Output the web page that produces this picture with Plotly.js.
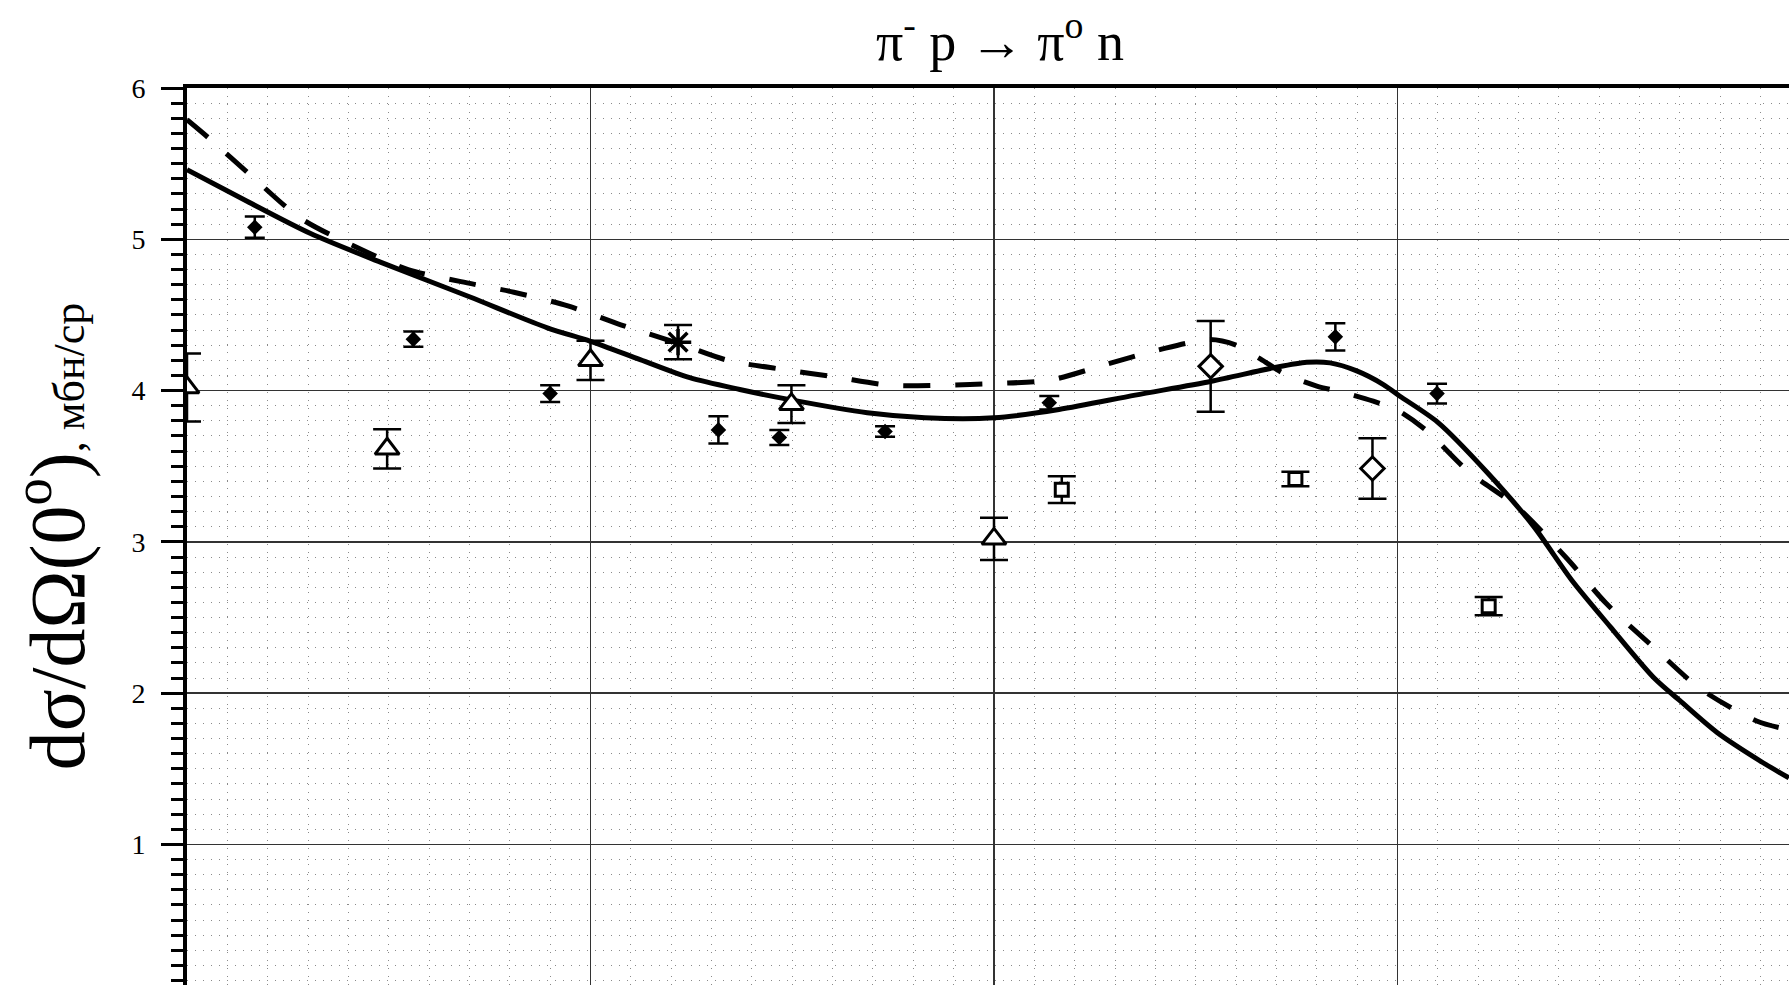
<!DOCTYPE html>
<html>
<head>
<meta charset="utf-8">
<script src="https://cdn.plot.ly/plotly-3.0.1.min.js"></script>
<style>
html,body{margin:0;padding:0;background:#fff;overflow:hidden;}
#chart{width:1789px;height:985px;}
</style>
</head>
<body>
<div id="chart"></div>
<script>
// ---- data (x in major-grid units, y in mb/sr) ----
const solidX = [0, 0.15, 0.305, 0.484, 0.70, 0.893, 1.0, 1.123, 1.246, 1.37, 1.494, 1.686, 1.829, 2.0, 2.161, 2.35, 2.539, 2.692, 2.775, 2.833, 2.899, 2.965, 3.006, 3.1, 3.223, 3.337, 3.431, 3.527, 3.636, 3.70, 3.792, 3.906, 3.97];
const solidY = [5.46, 5.25, 5.04, 4.844, 4.62, 4.415, 4.326, 4.205, 4.085, 4.007, 3.94, 3.853, 3.82, 3.82, 3.875, 3.97, 4.062, 4.15, 4.187, 4.183, 4.13, 4.04, 3.963, 3.79, 3.457, 3.104, 2.75, 2.44, 2.10, 1.95, 1.74, 1.54, 1.44];

const dashX = [0, 0.058, 0.155, 0.281, 0.415, 0.548, 0.679, 0.81, 0.944, 1.075, 1.22, 1.34, 1.476, 1.607, 1.74, 1.874, 2.007, 2.14, 2.274, 2.405, 2.535, 2.60, 2.66, 2.72, 2.80, 2.87, 2.94, 3.0, 3.07, 3.178, 3.297, 3.42, 3.517, 3.64, 3.75, 3.89, 3.95];
const dashY = [5.79, 5.66, 5.43, 5.14, 4.954, 4.80, 4.72, 4.65, 4.56, 4.435, 4.31, 4.20, 4.14, 4.09, 4.036, 4.036, 4.047, 4.07, 4.17, 4.267, 4.337, 4.30, 4.21, 4.11, 4.03, 3.985, 3.93, 3.87, 3.74, 3.46, 3.23, 2.89, 2.594, 2.29, 2.03, 1.816, 1.77];

const diaX = [0.168, 0.561, 0.900, 1.317, 1.468, 1.730, 2.137, 2.846, 3.098];
const diaY = [5.08, 4.34, 3.98, 3.74, 3.69, 3.73, 3.92, 4.355, 3.98];
const diaErr = [0.07, 0.05, 0.055, 0.09, 0.05, 0.035, 0.045, 0.09, 0.065];

const triX = [0, 0.496, 1.0, 1.498, 2.0];
const triY = [4.02, 3.615, 4.20, 3.91, 3.02];
const triErr = [0.225, 0.13, 0.13, 0.125, 0.14];

const sqX = [2.168, 2.747, 3.226];
const sqY = [3.345, 3.415, 2.575];
const sqErr = [0.088, 0.048, 0.06];

const odX = [2.537, 2.938];
const odY = [4.16, 3.485];
const odErr = [0.30, 0.20];

const starX = [1.217];
const starY = [4.32];
const starErr = [0.113];

const yTickVals = [1, 2, 3, 4, 5, 6];
const yTickText = ['1', '2', '3', '4', '5', '6'];

const titleText = 'π<sup>-</sup> p → π<sup>o</sup> n';
const yTitleText = 'dσ/dΩ(0<sup>o</sup>)<span style="font-size:44px">, мбн/ср</span>';

// ---- traces ----
function errBar(arr, w) {
  return {type: 'data', array: arr, visible: true, color: '#000', thickness: 2.5, width: w};
}

const traces = [
  {x: solidX, y: solidY, mode: 'lines', line: {color: '#000', width: 5, shape: 'spline', smoothing: 0.8}, hoverinfo: 'skip'},
  {x: dashX, y: dashY, mode: 'lines', line: {color: '#000', width: 5, shape: 'spline', smoothing: 0.8, dash: '27px,25px'}, hoverinfo: 'skip'},
  {x: diaX, y: diaY, mode: 'markers', marker: {symbol: 'diamond', size: 12, color: '#000'}, error_y: errBar(diaErr, 10)},
  {x: triX, y: triY, mode: 'markers', marker: {symbol: 'triangle-up', size: 21, color: '#fff', line: {color: '#000', width: 3}}, error_y: errBar(triErr, 14)},
  {x: sqX, y: sqY, mode: 'markers', marker: {symbol: 'square', size: 13, color: '#fff', line: {color: '#000', width: 3}}, error_y: errBar(sqErr, 14)},
  {x: odX, y: odY, mode: 'markers', marker: {symbol: 'diamond', size: 18, color: '#fff', line: {color: '#000', width: 3}}, error_y: errBar(odErr, 14)},
  {x: starX, y: starY, mode: 'markers', marker: {symbol: 'asterisk-open', size: 22, color: '#000', line: {color: '#000', width: 3.5}}, error_y: errBar(starErr, 14)}
];

const layout = {
  width: 1789, height: 985,
  margin: {l: 187, r: 0, t: 88, b: 0, pad: 0},
  paper_bgcolor: '#fff', plot_bgcolor: '#fff',
  showlegend: false,
  font: {family: 'Liberation Serif, Times New Roman, serif', color: '#000'},
  title: {text: titleText, font: {family: 'Liberation Serif, serif', size: 54, color: '#000'},
          x: 0.5075, xref: 'paper', xanchor: 'center', y: 0.958, yref: 'container', yanchor: 'middle'},
  xaxis: {
    range: [0, 3.9703], side: 'top', showline: true, linewidth: 4, linecolor: '#000',
    ticks: '', showticklabels: false, zeroline: false,
    dtick: 1, tick0: 0, showgrid: true, gridcolor: '#333', gridwidth: 1.5,
    minor: {dtick: 0.1, showgrid: true, gridcolor: '#8a8a8a', gridwidth: 1, griddash: '1px,7px', ticks: ''}
  },
  yaxis: {
    range: [0.071, 6], showline: true, linewidth: 4, linecolor: '#000', mirror: false,
    tickmode: 'array', tickvals: yTickVals, ticktext: yTickText,
    ticks: 'outside', ticklen: 22, tickwidth: 3, tickcolor: '#000',
    tickfont: {family: 'Liberation Serif, serif', size: 28, color: '#000'},
    ticklabelstandoff: 10,
    zeroline: false, showgrid: true, gridcolor: '#333', gridwidth: 1.5,
    minor: {dtick: 0.1, tick0: 0, showgrid: true, gridcolor: '#8a8a8a', gridwidth: 1, griddash: '1px,7px',
            ticks: 'outside', ticklen: 12, tickwidth: 3, tickcolor: '#000'},
    title: {text: yTitleText, font: {family: 'Liberation Serif, serif', size: 78, color: '#000'}, standoff: 22}
  }
};

Plotly.newPlot('chart', traces, layout, {staticPlot: true, displayModeBar: false});
</script>
</body>
</html>
